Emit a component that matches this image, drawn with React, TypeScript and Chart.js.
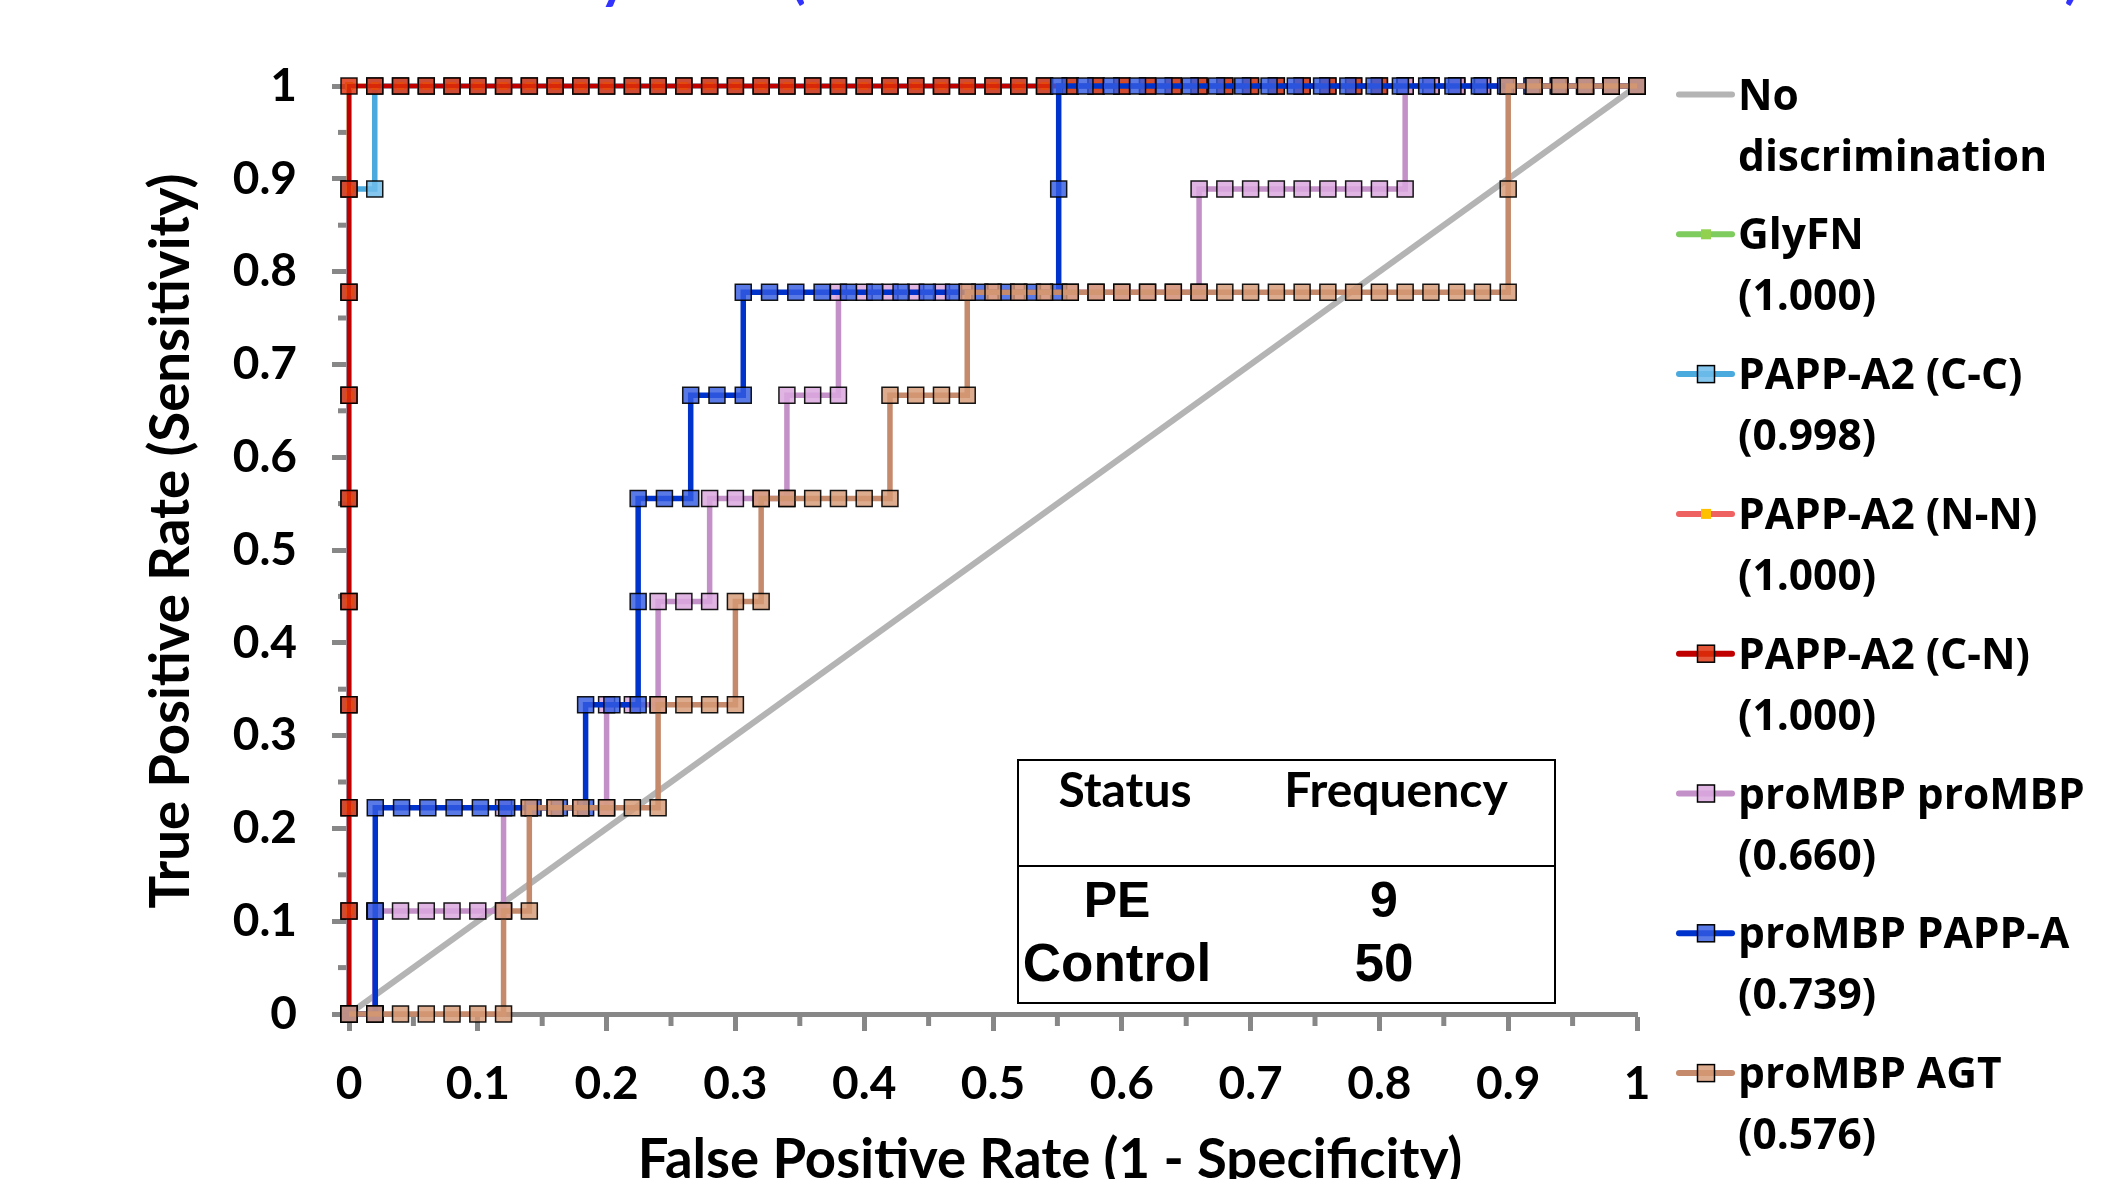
import React, { useEffect, useRef } from 'react';
import { Chart, registerables } from 'chart.js';

Chart.register(...registerables);

// ----------------------------- data -----------------------------
const legendLines: string[][] = [
  ['No', 'discrimination'],
  ['GlyFN', '(1.000)'],
  ['PAPP-A2 (C-C)', '(0.998)'],
  ['PAPP-A2 (N-N)', '(1.000)'],
  ['PAPP-A2 (C-N)', '(1.000)'],
  ['proMBP proMBP', '(0.660)'],
  ['proMBP PAPP-A', '(0.739)'],
  ['proMBP AGT', '(0.576)'],
];

const xTickLabels = ['0', '0.1', '0.2', '0.3', '0.4', '0.5', '0.6', '0.7', '0.8', '0.9', '1'];
const yTickLabels = ['0', '0.1', '0.2', '0.3', '0.4', '0.5', '0.6', '0.7', '0.8', '0.9', '1'];
const minorTicks = [0.05, 0.15, 0.25, 0.35, 0.45, 0.55, 0.65, 0.75, 0.85, 0.95];

const xAxisTitle = 'False Positive Rate (1 - Specificity)';
const yAxisTitle = 'True Positive Rate (Sensitivity)';
const titleLeft = 'Biomarker Accuracy: AUC ';
const titleParen = '(Area Under the ROC Curve for All Markers Tested)';

const tableHeaders = ['Status', 'Frequency'];
const tableStatus = ['PE', 'Control'];
const tableFreq = ['9', '50'];

// No discrimination
const noDiscFpr = [0, 1];
const noDiscTpr = [0, 1];

// GlyFN (1.000)
const glyfnFpr = [0, 0, 0, 0, 0, 0, 0, 0, 0, 0,
  0.02, 0.04, 0.06, 0.08, 0.10, 0.12, 0.14, 0.16, 0.18, 0.20, 0.22, 0.24, 0.26, 0.28, 0.30, 0.32, 0.34,
  0.36, 0.38, 0.40, 0.42, 0.44, 0.46, 0.48, 0.50, 0.52, 0.54, 0.56, 0.58, 0.60, 0.62, 0.64, 0.66, 0.68,
  0.70, 0.72, 0.74, 0.76, 0.78, 0.80, 0.82, 0.84, 0.86, 0.88, 0.90, 0.92, 0.94, 0.96, 0.98, 1.00];
const glyfnTpr = [0, 0.1111, 0.2222, 0.3333, 0.4444, 0.5556, 0.6667, 0.7778, 0.8889, 1,
  1, 1, 1, 1, 1, 1, 1, 1, 1, 1, 1, 1, 1, 1, 1, 1, 1, 1, 1, 1, 1, 1, 1, 1, 1,
  1, 1, 1, 1, 1, 1, 1, 1, 1, 1, 1, 1, 1, 1, 1, 1, 1, 1, 1, 1, 1, 1, 1, 1, 1];

// PAPP-A2 (C-C) (0.998)
const ccFpr = [0, 0, 0, 0, 0, 0, 0, 0, 0, 0.02, 0.02,
  0.04, 0.06, 0.08, 0.10, 0.12, 0.14, 0.16, 0.18, 0.20, 0.22, 0.24, 0.26, 0.28, 0.30, 0.32, 0.34,
  0.36, 0.38, 0.40, 0.42, 0.44, 0.46, 0.48, 0.50, 0.52, 0.54, 0.56, 0.58, 0.60, 0.62, 0.64, 0.66, 0.68,
  0.70, 0.72, 0.74, 0.76, 0.78, 0.80, 0.82, 0.84, 0.86, 0.88, 0.90, 0.92, 0.94, 0.96, 0.98, 1.00];
const ccTpr = [0, 0.1111, 0.2222, 0.3333, 0.4444, 0.5556, 0.6667, 0.7778, 0.8889, 0.8889, 1,
  1, 1, 1, 1, 1, 1, 1, 1, 1, 1, 1, 1, 1, 1, 1, 1, 1, 1, 1, 1, 1, 1, 1, 1,
  1, 1, 1, 1, 1, 1, 1, 1, 1, 1, 1, 1, 1, 1, 1, 1, 1, 1, 1, 1, 1, 1, 1, 1, 1];

// PAPP-A2 (N-N) (1.000)
const nnFpr = [0, 0, 0, 0, 0, 0, 0, 0, 0, 0,
  0.02, 0.04, 0.06, 0.08, 0.10, 0.12, 0.14, 0.16, 0.18, 0.20, 0.22, 0.24, 0.26, 0.28, 0.30, 0.32, 0.34,
  0.36, 0.38, 0.40, 0.42, 0.44, 0.46, 0.48, 0.50, 0.52, 0.54, 0.56, 0.58, 0.60, 0.62, 0.64, 0.66, 0.68,
  0.70, 0.72, 0.74, 0.76, 0.78, 0.80, 0.82, 0.84, 0.86, 0.88, 0.90, 0.92, 0.94, 0.96, 0.98, 1.00];
const nnTpr = [0, 0.1111, 0.2222, 0.3333, 0.4444, 0.5556, 0.6667, 0.7778, 0.8889, 1,
  1, 1, 1, 1, 1, 1, 1, 1, 1, 1, 1, 1, 1, 1, 1, 1, 1, 1, 1, 1, 1, 1, 1, 1, 1,
  1, 1, 1, 1, 1, 1, 1, 1, 1, 1, 1, 1, 1, 1, 1, 1, 1, 1, 1, 1, 1, 1, 1, 1, 1];

// PAPP-A2 (C-N) (1.000)
const cnFpr = [0, 0, 0, 0, 0, 0, 0, 0, 0, 0,
  0.02, 0.04, 0.06, 0.08, 0.10, 0.12, 0.14, 0.16, 0.18, 0.20, 0.22, 0.24, 0.26, 0.28, 0.30, 0.32, 0.34,
  0.36, 0.38, 0.40, 0.42, 0.44, 0.46, 0.48, 0.50, 0.52, 0.54, 0.56, 0.58, 0.60, 0.62, 0.64, 0.66, 0.68,
  0.70, 0.72, 0.74, 0.76, 0.78, 0.80, 0.82, 0.84, 0.86, 0.88, 0.90, 0.92, 0.94, 0.96, 0.98, 1.00];
const cnTpr = [0, 0.1111, 0.2222, 0.3333, 0.4444, 0.5556, 0.6667, 0.7778, 0.8889, 1,
  1, 1, 1, 1, 1, 1, 1, 1, 1, 1, 1, 1, 1, 1, 1, 1, 1, 1, 1, 1, 1, 1, 1, 1, 1,
  1, 1, 1, 1, 1, 1, 1, 1, 1, 1, 1, 1, 1, 1, 1, 1, 1, 1, 1, 1, 1, 1, 1, 1, 1];

// proMBP proMBP (0.660)
const pmFpr = [0, 0.02,
  0.02, 0.04, 0.06, 0.08, 0.10, 0.12,
  0.12, 0.14, 0.16, 0.18, 0.20,
  0.20, 0.22, 0.24,
  0.24, 0.26, 0.28,
  0.28, 0.30, 0.32, 0.34,
  0.34, 0.36, 0.38,
  0.38, 0.40, 0.42, 0.44, 0.46, 0.48, 0.50, 0.52, 0.54, 0.56, 0.58, 0.60, 0.62, 0.64, 0.66,
  0.66, 0.68, 0.70, 0.72, 0.74, 0.76, 0.78, 0.80, 0.82,
  0.82, 0.84, 0.86, 0.88, 0.90, 0.92, 0.94, 0.96, 0.98, 1.00];
const pmTpr = [0, 0,
  0.1111, 0.1111, 0.1111, 0.1111, 0.1111, 0.1111,
  0.2222, 0.2222, 0.2222, 0.2222, 0.2222,
  0.3333, 0.3333, 0.3333,
  0.4444, 0.4444, 0.4444,
  0.5556, 0.5556, 0.5556, 0.5556,
  0.6667, 0.6667, 0.6667,
  0.7778, 0.7778, 0.7778, 0.7778, 0.7778, 0.7778, 0.7778, 0.7778, 0.7778, 0.7778, 0.7778, 0.7778, 0.7778, 0.7778, 0.7778,
  0.8889, 0.8889, 0.8889, 0.8889, 0.8889, 0.8889, 0.8889, 0.8889, 0.8889,
  1, 1, 1, 1, 1, 1, 1, 1, 1, 1];

// proMBP PAPP-A (0.739)
const ppFpr = [0, 0.0204,
  0.0204,
  0.0204, 0.0408, 0.0612, 0.0816, 0.1020, 0.1224, 0.1429, 0.1633, 0.1837,
  0.1837, 0.2041, 0.2245,
  0.2245,
  0.2245, 0.2449, 0.2653,
  0.2653, 0.2857, 0.3061,
  0.3061, 0.3265, 0.3469, 0.3673, 0.3878, 0.4082, 0.4286, 0.4490, 0.4694, 0.4898, 0.5102, 0.5306, 0.5510,
  0.5510,
  0.5510, 0.5714, 0.5918, 0.6122, 0.6327, 0.6531, 0.6735, 0.6939, 0.7143, 0.7347, 0.7551, 0.7755,
  0.7959, 0.8163, 0.8367, 0.8571, 0.8776, 0.8980, 0.9184, 0.9388, 0.9592, 0.9796, 1.0000];
const ppTpr = [0, 0,
  0.1111,
  0.2222, 0.2222, 0.2222, 0.2222, 0.2222, 0.2222, 0.2222, 0.2222, 0.2222,
  0.3333, 0.3333, 0.3333,
  0.4444,
  0.5556, 0.5556, 0.5556,
  0.6667, 0.6667, 0.6667,
  0.7778, 0.7778, 0.7778, 0.7778, 0.7778, 0.7778, 0.7778, 0.7778, 0.7778, 0.7778, 0.7778, 0.7778, 0.7778,
  0.8889,
  1, 1, 1, 1, 1, 1, 1, 1, 1, 1, 1, 1,
  1, 1, 1, 1, 1, 1, 1, 1, 1, 1, 1];

// proMBP AGT (0.576)
const agtFpr = [0, 0.02, 0.04, 0.06, 0.08, 0.10, 0.12,
  0.12, 0.14,
  0.14, 0.16, 0.18, 0.20, 0.22, 0.24,
  0.24, 0.26, 0.28, 0.30,
  0.30, 0.32,
  0.32, 0.34, 0.36, 0.38, 0.40, 0.42,
  0.42, 0.44, 0.46, 0.48,
  0.48, 0.50, 0.52, 0.54, 0.56, 0.58, 0.60, 0.62, 0.64, 0.66, 0.68, 0.70, 0.72, 0.74, 0.76, 0.78,
  0.80, 0.82, 0.84, 0.86, 0.88, 0.90,
  0.90,
  0.90, 0.92, 0.94, 0.96, 0.98, 1.00];
const agtTpr = [0, 0, 0, 0, 0, 0, 0,
  0.1111, 0.1111,
  0.2222, 0.2222, 0.2222, 0.2222, 0.2222, 0.2222,
  0.3333, 0.3333, 0.3333, 0.3333,
  0.4444, 0.4444,
  0.5556, 0.5556, 0.5556, 0.5556, 0.5556, 0.5556,
  0.6667, 0.6667, 0.6667, 0.6667,
  0.7778, 0.7778, 0.7778, 0.7778, 0.7778, 0.7778, 0.7778, 0.7778, 0.7778, 0.7778, 0.7778, 0.7778, 0.7778, 0.7778, 0.7778, 0.7778,
  0.7778, 0.7778, 0.7778, 0.7778, 0.7778, 0.7778,
  0.8889,
  1, 1, 1, 1, 1, 1];

// ----------------------------- styling -----------------------------
const AXIS_GRAY = '#878787';
const W = 2120;
const H = 1179;

type SeriesStyle = { line: string; width: number; fill: string; radius: number; border: string; borderW: number };

const styles: SeriesStyle[] = [
  { line: '#b4b4b4', width: 6, fill: 'rgba(0,0,0,0)', radius: 0, border: 'rgba(0,0,0,0)', borderW: 0 },
  { line: '#7ecb5e', width: 5, fill: '#92d050', radius: 5.5, border: 'rgba(0,0,0,0)', borderW: 0 },
  { line: '#4aa9dd', width: 5.5, fill: 'rgba(110,188,235,0.85)', radius: 11.3, border: 'rgba(0,0,0,0.9)', borderW: 1.5 },
  { line: '#ef6262', width: 5, fill: '#ffc000', radius: 5.5, border: 'rgba(0,0,0,0)', borderW: 0 },
  { line: '#c00000', width: 4, fill: 'rgba(222,48,12,0.82)', radius: 11.3, border: 'rgba(0,0,0,0.9)', borderW: 1.5 },
  { line: '#c490c8', width: 5.5, fill: 'rgba(218,168,222,0.85)', radius: 11.3, border: 'rgba(0,0,0,0.9)', borderW: 1.5 },
  { line: '#0033cc', width: 5.5, fill: 'rgba(52,92,226,0.82)', radius: 11.3, border: 'rgba(0,0,0,0.9)', borderW: 1.5 },
  { line: '#c58a6b', width: 5.5, fill: 'rgba(214,152,116,0.82)', radius: 11.3, border: 'rgba(0,0,0,0.9)', borderW: 1.5 },
];

const seriesData: number[][][] = [
  [noDiscFpr, noDiscTpr],
  [glyfnFpr, glyfnTpr],
  [ccFpr, ccTpr],
  [nnFpr, nnTpr],
  [cnFpr, cnTpr],
  [pmFpr, pmTpr],
  [ppFpr, ppTpr],
  [agtFpr, agtTpr],
];

const overlayPlugin = {
  id: 'rocOverlay',
  beforeDatasetsDraw(chart: any) {
    const { ctx, chartArea: ca, scales } = chart;
    ctx.save();
    ctx.strokeStyle = AXIS_GRAY;
    ctx.lineWidth = 5;
    for (const v of minorTicks) {
      const px = scales.x.getPixelForValue(v);
      ctx.beginPath();
      ctx.moveTo(px, ca.bottom);
      ctx.lineTo(px, ca.bottom + 12);
      ctx.stroke();
      const py = scales.y.getPixelForValue(v);
      ctx.beginPath();
      ctx.moveTo(ca.left - 11, py);
      ctx.lineTo(ca.left, py);
      ctx.stroke();
    }
    ctx.restore();
  },
  afterDraw(chart: any) {
    const { ctx } = chart;
    ctx.save();

    // clipped title at the very top
    ctx.fillStyle = '#3333ff';
    ctx.textBaseline = 'alphabetic';
    ctx.textAlign = 'left';
    ctx.font = 'bold 60px Lato';
    const pw = ctx.measureText(titleParen).width;
    const tSize = 60 * 1290 / pw;
    ctx.font = `bold ${tSize.toFixed(1)}px Lato`;
    const lw = ctx.measureText(titleLeft).width;
    ctx.fillText(titleLeft + titleParen, 790 - lw, -3);

    // axis titles
    ctx.fillStyle = '#000';
    ctx.font = 'bold 54.5px Lato';
    ctx.textAlign = 'center';
    ctx.fillText(xAxisTitle, 1050, 1178);
    ctx.save();
    ctx.translate(189, 541);
    ctx.rotate(-Math.PI / 2);
    ctx.fillText(yAxisTitle, 0, 0);
    ctx.restore();

    // legend
    const datasets = chart.data.datasets;
    for (let i = 0; i < legendLines.length; i++) {
      const y = 94.5 + i * 139.8;
      const ds = datasets[i];
      ctx.strokeStyle = ds.borderColor;
      ctx.lineWidth = 6;
      ctx.lineCap = 'round';
      ctx.beginPath();
      ctx.moveTo(1679, y);
      ctx.lineTo(1732, y);
      ctx.stroke();
      const r = ds.pointRadius as number;
      if (r > 0) {
        const side = r > 8 ? 17 : 10;
        ctx.fillStyle = ds.pointBackgroundColor;
        ctx.fillRect(1706 - side / 2, y - side / 2, side, side);
        if ((ds.pointBorderWidth as number) > 0) {
          ctx.strokeStyle = '#000';
          ctx.lineWidth = 1.5;
          ctx.lineCap = 'butt';
          ctx.strokeRect(1706 - side / 2, y - side / 2, side, side);
        }
      }
      ctx.fillStyle = '#000';
      ctx.font = 'bold 42.5px "Open Sans"';
      ctx.textAlign = 'left';
      ctx.fillText(legendLines[i][0], 1738, y + 15);
      ctx.fillText(legendLines[i][1], 1738, y + 15 + 61);
    }

    // frequency table
    ctx.fillStyle = '#fff';
    ctx.fillRect(1018, 760, 537, 243);
    ctx.strokeStyle = '#000';
    ctx.lineWidth = 2;
    ctx.lineCap = 'butt';
    ctx.strokeRect(1018, 760, 537, 243);
    ctx.beginPath();
    ctx.moveTo(1018, 866);
    ctx.lineTo(1555, 866);
    ctx.stroke();
    ctx.fillStyle = '#000';
    ctx.textAlign = 'center';
    ctx.font = 'bold 48px Lato';
    ctx.fillText(tableHeaders[0], 1125, 807);
    ctx.fillText(tableHeaders[1], 1396, 807);
    const rowY = [917, 981];
    const rowFont = [50, 53];
    for (let i = 0; i < tableStatus.length; i++) {
      ctx.font = `bold ${rowFont[i]}px "Liberation Sans"`;
      ctx.fillText(tableStatus[i], 1117, rowY[i]);
      ctx.fillText(tableFreq[i], 1384, rowY[i]);
    }
    ctx.restore();
  },
};

function buildConfig(): any {
  const n = seriesData.length;
  const datasets = seriesData.map(([fpr, tpr], i) => {
    const s = styles[i];
    return {
      label: legendLines[i].join(' '),
      data: fpr.map((x, k) => ({ x, y: tpr[k] })),
      showLine: true,
      borderColor: s.line,
      borderWidth: s.width,
      backgroundColor: s.fill,
      pointBackgroundColor: s.fill,
      pointBorderColor: s.border,
      pointBorderWidth: s.borderW,
      pointStyle: 'rect',
      pointRadius: s.radius,
      pointHoverRadius: s.radius,
      tension: 0,
      clip: false,
      order: n - i,
    };
  });

  const tickFont = { family: 'Lato', weight: 'bold' as const, size: 46 };

  return {
    type: 'scatter',
    data: { datasets },
    options: {
      animation: false,
      responsive: false,
      devicePixelRatio: 1,
      events: [],
      layout: { padding: { left: 0, top: 86, right: W - 1637, bottom: 0 } },
      plugins: {
        legend: { display: false },
        tooltip: { enabled: false },
        title: { display: false },
      },
      scales: {
        x: {
          type: 'linear',
          position: 'bottom',
          min: 0,
          max: 1,
          afterFit: (s: any) => { s.height = H - 1014; },
          ticks: {
            stepSize: 0.1,
            autoSkip: false,
            maxRotation: 0,
            color: '#000',
            font: tickFont,
            padding: 26,
            callback: (v: number) => xTickLabels[Math.round(v * 10)],
          },
          grid: { drawOnChartArea: false, drawTicks: true, tickLength: 17, tickWidth: 5, tickColor: AXIS_GRAY },
          border: { display: true, color: AXIS_GRAY, width: 5 },
        },
        y: {
          type: 'linear',
          position: 'left',
          min: 0,
          max: 1,
          afterFit: (s: any) => { s.width = 349; },
          ticks: {
            stepSize: 0.1,
            autoSkip: false,
            color: '#000',
            font: tickFont,
            padding: 35,
            callback: (v: number) => yTickLabels[Math.round(v * 10)],
          },
          grid: { drawOnChartArea: false, drawTicks: true, tickLength: 17, tickWidth: 5, tickColor: AXIS_GRAY },
          border: { display: true, color: AXIS_GRAY, width: 5 },
        },
      },
    },
    plugins: [overlayPlugin],
  };
}

export default function App() {
  const ref = useRef<HTMLCanvasElement>(null);
  useEffect(() => {
    const canvas = ref.current;
    if (!canvas) return;
    const chart = new Chart(canvas, buildConfig());
    let alive = true;
    const fonts = ['bold 46px Lato', 'bold 42px "Open Sans"', 'bold 48px "Liberation Sans"'];
    Promise.all(fonts.map((f) => document.fonts.load(f)))
      .then(() => { if (alive) chart.update(); })
      .catch(() => {});
    return () => {
      alive = false;
      chart.destroy();
    };
  }, []);
  return (
    <div style={{ position: 'absolute', left: 0, top: 0, width: W, height: H, background: '#fff', overflow: 'hidden' }}>
      <canvas ref={ref} width={W} height={H} style={{ width: W, height: H, display: 'block' }} />
    </div>
  );
}
